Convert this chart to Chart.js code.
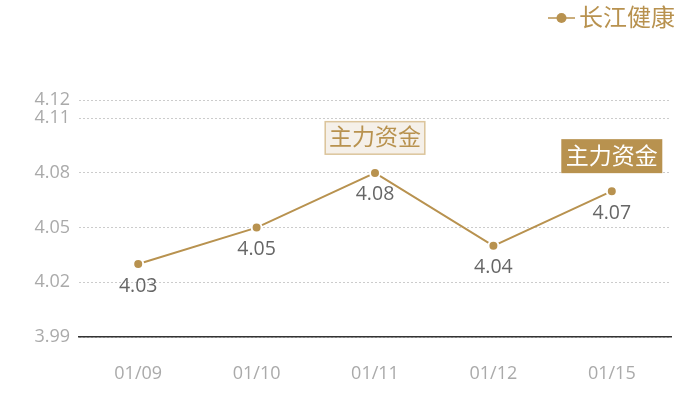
<!DOCTYPE html>
<html>
<head>
<meta charset="utf-8">
<script src="https://cdn.jsdelivr.net/npm/chart.js@4"></script>
<style>
  html, body { margin: 0; padding: 0; background: #fff; }
  #wrap { width: 700px; height: 400px; }
</style>
</head>
<body>
<div id="wrap"><canvas id="priceChart" width="700" height="400"></canvas></div>
<script>
const dates = ['01/09', '01/10', '01/11', '01/12', '01/15'];
const prices = [4.03, 4.05, 4.08, 4.04, 4.07];
const yTicks = [3.99, 4.02, 4.05, 4.08, 4.11, 4.12];
const seriesName = '长江健康';
const flagLabel = '主力资金';
// which points carry a "主力资金" flag, and whether it is the filled one
const flagIndexes = [2, 4];
const flagFilled = [false, true];

const GOLD = '#b8924f';
const FONT = '"Open Sans", "Noto Sans CJK SC", sans-serif';

const overlay = {
    id: 'overlay',
    afterDatasetsDraw(chart) {
        const ctx = chart.ctx;
        const x = chart.scales.x;
        const y = chart.scales.y;

        // value labels under each point
        ctx.save();
        ctx.font = '19.5px ' + FONT;
        ctx.fillStyle = '#666';
        ctx.textAlign = 'center';
        ctx.textBaseline = 'middle';
        prices.forEach((v, i) => {
            ctx.fillText(v.toFixed(2), x.getPixelForValue(i), y.getPixelForValue(v) + 22);
        });

        // flags above points
        ctx.font = '23px ' + FONT;
        flagIndexes.forEach((idx, k) => {
            const px = x.getPixelForValue(idx);
            const py = y.getPixelForValue(prices[idx]);
            const w = 101, h = 34;
            const left = px - w / 2, top = py - 18 - h;
            if (flagFilled[k]) {
                ctx.fillStyle = GOLD;
                ctx.fillRect(left, top, w, h);
                ctx.fillStyle = '#fff';
            } else {
                ctx.fillStyle = '#f5f0e9';
                ctx.fillRect(left, top, w, h);
                ctx.strokeStyle = '#dcc59c';
                ctx.lineWidth = 1.5;
                ctx.strokeRect(left + 0.75, top + 0.75, w - 1.5, h - 1.5);
                ctx.fillStyle = GOLD;
            }
            ctx.fillText(flagLabel, px, top + h / 2 + 1);
        });

        // legend, top right
        ctx.strokeStyle = GOLD;
        ctx.lineWidth = 1.5;
        ctx.beginPath();
        ctx.moveTo(548, 18);
        ctx.lineTo(575, 18);
        ctx.stroke();
        ctx.fillStyle = GOLD;
        ctx.beginPath();
        ctx.arc(561.5, 18, 5, 0, Math.PI * 2);
        ctx.fill();
        ctx.font = '24px ' + FONT;
        ctx.textAlign = 'left';
        ctx.fillText(seriesName, 579, 19);
        ctx.restore();
    }
};

new Chart(document.getElementById('priceChart'), {
    type: 'line',
    data: {
        labels: dates,
        datasets: [{
            label: seriesName,
            data: prices,
            borderColor: GOLD,
            borderWidth: 2,
            backgroundColor: GOLD,
            pointRadius: 5,
            pointBorderWidth: 2,
            pointBorderColor: '#fff',
            pointBackgroundColor: GOLD,
            tension: 0,
            fill: false
        }]
    },
    options: {
        responsive: false,
        animation: false,
        devicePixelRatio: 1,
        layout: { padding: { top: 100, right: 29, left: 0, bottom: 0 } },
        plugins: { legend: { display: false }, tooltip: { enabled: false } },
        scales: {
            x: {
                offset: true,
                afterFit: (scale) => { scale.height = 63; },
                grid: { display: false },
                border: { display: true, color: '#333', width: 1.5 },
                ticks: { color: '#aaa', font: { family: FONT, size: 18 }, padding: 18, maxRotation: 0 }
            },
            y: {
                min: 3.99,
                max: 4.12,
                afterBuildTicks: (scale) => { scale.ticks = yTicks.map(v => ({ value: v })); },
                afterFit: (scale) => { scale.width = 79; },
                grid: { color: '#ccc', drawTicks: false },
                border: { display: false, dash: [2, 2] },
                ticks: {
                    color: '#aaa',
                    font: { family: FONT, size: 18 },
                    padding: 9,
                    callback: (v) => Number(v).toFixed(2)
                }
            }
        }
    },
    plugins: [overlay]
});
</script>
</body>
</html>
